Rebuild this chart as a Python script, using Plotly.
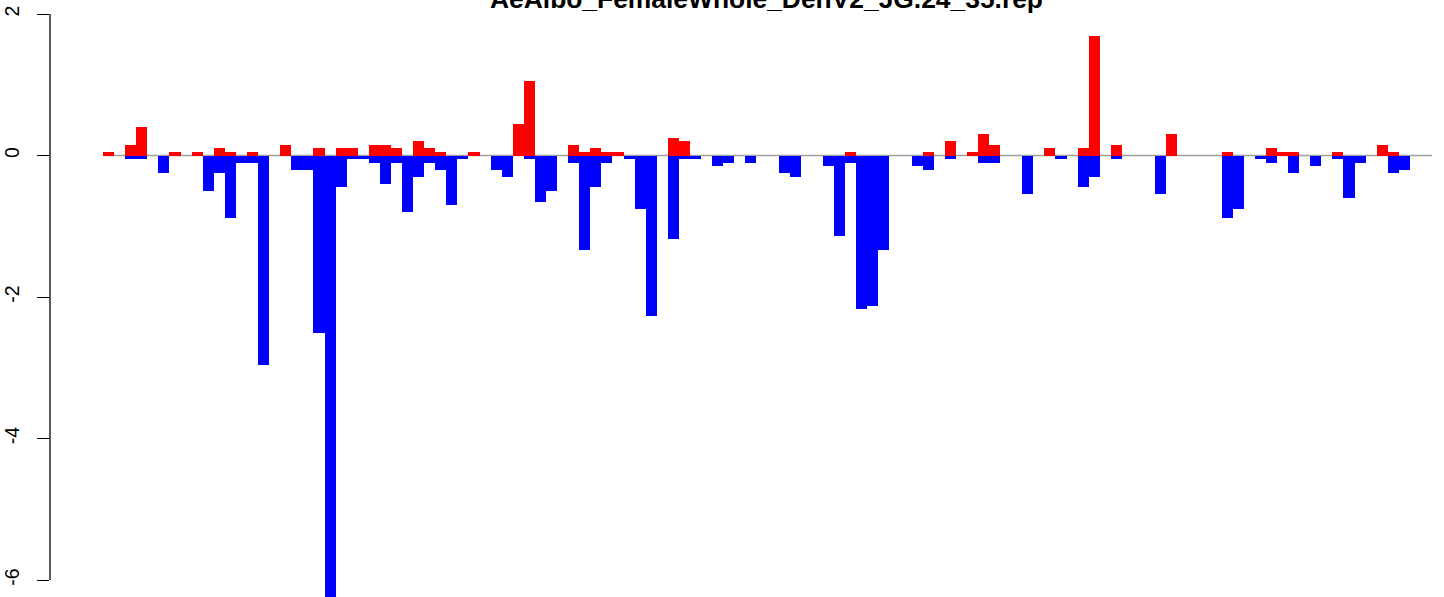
import plotly.graph_objects as go

title_text = "AeAlbo_FemaleWhole_DenV2_JG.24_35.rep"

# bar positions (index along the x direction)
positions = list(range(120))

# positive (red) values per position
up_values = [
    0.05, 0, 0.15, 0.40, 0, 0, 0.05, 0, 0.05, 0,
    0.10, 0.05, 0, 0.05, 0, 0, 0.15, 0, 0, 0.10,
    0, 0.10, 0.10, 0, 0.15, 0.15, 0.10, 0, 0.20, 0.10,
    0.05, 0, 0, 0.05, 0, 0, 0, 0.45, 1.05, 0,
    0, 0, 0.15, 0.05, 0.10, 0.05, 0.05, 0, 0, 0,
    0, 0.25, 0.20, 0, 0, 0, 0, 0, 0, 0,
    0, 0, 0, 0, 0, 0, 0, 0.05, 0, 0,
    0, 0, 0, 0, 0.05, 0, 0.20, 0, 0.05, 0.30,
    0.15, 0, 0, 0, 0, 0.10, 0, 0, 0.10, 1.69,
    0, 0.15, 0, 0, 0, 0, 0.30, 0, 0, 0,
    0, 0.05, 0, 0, 0, 0.10, 0.05, 0.05, 0, 0,
    0, 0.05, 0, 0, 0, 0.15, 0.05, 0, 0, 0,
]

# negative (blue) values per position
down_values = [
    0, 0, -0.05, -0.05, 0, -0.25, 0, 0, 0, -0.50,
    -0.25, -0.88, -0.10, -0.10, -2.96, 0, 0, -0.20, -0.20, -2.51,
    -6.24, -0.45, -0.05, -0.05, -0.10, -0.40, -0.10, -0.80, -0.30, -0.10,
    -0.20, -0.70, -0.05, 0, 0, -0.20, -0.30, 0, -0.05, -0.65,
    -0.50, 0, -0.10, -1.33, -0.45, -0.10, 0, -0.05, -0.75, -2.27,
    0, -1.18, -0.05, -0.05, 0, -0.15, -0.10, 0, -0.10, 0,
    0, -0.25, -0.30, 0, 0, -0.15, -1.14, -0.10, -2.17, -2.12,
    -1.33, 0, 0, -0.15, -0.20, 0, -0.05, 0, 0, -0.10,
    -0.10, 0, 0, -0.55, 0, 0, -0.05, 0, -0.45, -0.30,
    0, -0.05, 0, 0, 0, -0.55, 0, 0, 0, 0,
    0, -0.89, -0.75, 0, -0.05, -0.10, 0, -0.25, 0, -0.15,
    0, -0.05, -0.60, -0.10, 0, 0, -0.25, -0.20, 0, 0,
]

y_ticks = [-6, -4, -2, 0, 2]
y_tick_labels = ["-6", "-4", "-2", "0", "2"]

fig = go.Figure()
fig.add_trace(go.Bar(x=positions, y=up_values, width=1,
                     marker=dict(color="#FF0000", line=dict(width=0)),
                     showlegend=False, hoverinfo="skip"))
fig.add_trace(go.Bar(x=positions, y=down_values, width=1,
                     marker=dict(color="#0000FF", line=dict(width=0)),
                     showlegend=False, hoverinfo="skip"))

# zero reference line across the bar span
fig.add_shape(type="line", xref="x", yref="y",
              x0=positions[0] - 0.5, x1=positions[-1] + 0.5, y0=0, y1=0,
              line=dict(color="#A0A0A0", width=1.5), layer="below")
# R-style axis line spanning only the tick range
fig.add_shape(type="line", xref="paper", yref="y",
              x0=0, x1=0, y0=min(y_ticks), y1=max(y_ticks),
              line=dict(color="black", width=1.3), layer="above")

fig.add_annotation(text="<b>" + title_text + "</b>", xref="paper", yref="paper",
                   x=0.5143, y=1 - 16 / 597, xanchor="center", yanchor="bottom",
                   showarrow=False,
                   font=dict(family="Liberation Sans", size=26.4, color="black"))

fig.update_layout(
    width=1444, height=597,
    margin=dict(l=50, r=0, t=0, b=0, autoexpand=False),
    paper_bgcolor="white", plot_bgcolor="white",
    barmode="overlay", bargap=0,
    xaxis=dict(visible=False, range=[-5.286, 120.58], automargin=False),
    yaxis=dict(range=[-6.24, 2.198], tickvals=y_ticks, ticktext=y_tick_labels,
               ticks="outside", ticklen=12, tickwidth=1.3, tickcolor="black",
               tickangle=-90, showgrid=False, zeroline=False, showline=False,
               ticklabelstandoff=10, automargin=False,
               tickfont=dict(family="Liberation Sans", size=19.5, color="black")),
)

fig.write_html("out.html", config={"displayModeBar": False},
               post_script="document.body.style.margin='0';document.body.style.padding='0';"
                           "document.body.style.overflow='hidden';")
